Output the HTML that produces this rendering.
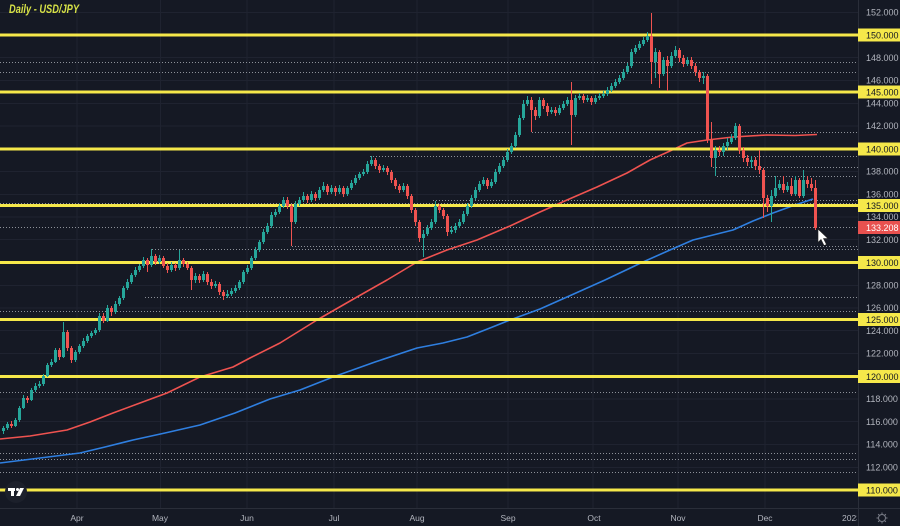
<!DOCTYPE html>
<html><head><meta charset="utf-8"><style>
html,body{margin:0;padding:0;background:#151924;}
svg{display:block;}
text{font-family:"Liberation Sans",sans-serif;}
</style></head><body>
<svg width="900" height="526" viewBox="0 0 900 526" xmlns="http://www.w3.org/2000/svg">
<defs><clipPath id="pl"><rect x="0" y="0" width="858" height="508"/></clipPath>
<clipPath id="ax"><rect x="0" y="508" width="857" height="18"/></clipPath></defs>
<rect width="900" height="526" fill="#151924"/>
<g stroke="#1f2330" stroke-width="1" shape-rendering="crispEdges">
<line x1="0" x2="858" y1="12.5" y2="12.5"/><line x1="0" x2="858" y1="57.5" y2="57.5"/><line x1="0" x2="858" y1="80.5" y2="80.5"/><line x1="0" x2="858" y1="103.5" y2="103.5"/><line x1="0" x2="858" y1="126" y2="126"/><line x1="0" x2="858" y1="171.5" y2="171.5"/><line x1="0" x2="858" y1="194.5" y2="194.5"/><line x1="0" x2="858" y1="217" y2="217"/><line x1="0" x2="858" y1="239.5" y2="239.5"/><line x1="0" x2="858" y1="285.5" y2="285.5"/><line x1="0" x2="858" y1="308" y2="308"/><line x1="0" x2="858" y1="330.5" y2="330.5"/><line x1="0" x2="858" y1="353.5" y2="353.5"/><line x1="0" x2="858" y1="399" y2="399"/><line x1="0" x2="858" y1="421.5" y2="421.5"/><line x1="0" x2="858" y1="444.5" y2="444.5"/><line x1="0" x2="858" y1="467.5" y2="467.5"/>
<line x1="77" x2="77" y1="0" y2="508"/><line x1="160.5" x2="160.5" y1="0" y2="508"/><line x1="247" x2="247" y1="0" y2="508"/><line x1="334" x2="334" y1="0" y2="508"/><line x1="417" x2="417" y1="0" y2="508"/><line x1="508" x2="508" y1="0" y2="508"/><line x1="593" x2="593" y1="0" y2="508"/><line x1="678" x2="678" y1="0" y2="508"/><line x1="765" x2="765" y1="0" y2="508"/>
</g>
<g stroke="#a3a6ae" stroke-width="1" stroke-dasharray="1 2" opacity="0.85">
<line x1="0" x2="858" y1="62.5" y2="62.5"/><line x1="0" x2="858" y1="72.5" y2="72.5"/><line x1="532" x2="858" y1="132.5" y2="132.5"/><line x1="370" x2="858" y1="156.5" y2="156.5"/><line x1="713" x2="858" y1="167.5" y2="167.5"/><line x1="717" x2="858" y1="176.5" y2="176.5"/><line x1="433" x2="858" y1="200.5" y2="200.5"/><line x1="0" x2="858" y1="203.5" y2="203.5"/><line x1="0" x2="858" y1="227.5" y2="227.5"/><line x1="292" x2="858" y1="246.5" y2="246.5"/><line x1="152" x2="858" y1="249.5" y2="249.5"/><line x1="145" x2="858" y1="297.5" y2="297.5"/><line x1="0" x2="858" y1="311.5" y2="311.5"/><line x1="0" x2="858" y1="392.5" y2="392.5"/><line x1="0" x2="858" y1="453.5" y2="453.5"/><line x1="0" x2="858" y1="459.5" y2="459.5"/><line x1="0" x2="858" y1="472.5" y2="472.5"/>
</g>
<g clip-path="url(#pl)" fill="none" stroke-width="1.6" stroke-linejoin="round">
<polyline stroke="#ef5350" points="0,439 30,436 67,430 90,422 113,413 140,403 167,393 200,377 233,367 250,358 280,343 317,320 357,297 387,280 417,262 447,250 477,240 510,226 540,212 567,200 597,187 627,173 650,160 670,151 687,143 707,140 733,137 767,135 795,135.5 817,134.5"/>
<polyline stroke="#2f7fe0" points="0,463 40,458 80,453 105,447 133,440 165,433 200,425 235,413 270,399 300,390 333,377 375,362 417,348 443,343 467,337 490,328 510,320 540,309 567,297 605,280 643,262 670,250 693,240 713,235 733,230 753,221 773,213 795,205 813,199"/>
</g>
<g stroke="#f5e84a" stroke-width="3" shape-rendering="crispEdges">
<line x1="0" x2="858" y1="35" y2="35"/><line x1="0" x2="858" y1="92" y2="92"/><line x1="0" x2="858" y1="149" y2="149"/><line x1="0" x2="858" y1="205.5" y2="205.5"/><line x1="0" x2="858" y1="262.5" y2="262.5"/><line x1="0" x2="858" y1="319.5" y2="319.5"/><line x1="0" x2="858" y1="376.5" y2="376.5"/><line x1="0" x2="858" y1="490" y2="490"/>
</g>
<g fill="none">
<path stroke="#26a69a" stroke-width="1" d="M3.5 426V434M7.5 422V430M15.5 418V427M19.5 406V422M23.5 395V409M31.5 388V401M35.5 383V392M39.5 381V388M43.5 374V386M47.5 363V377M51.5 359V367M55.5 348V363M63.5 322V358M75.5 350V362M79.5 344V354M83.5 338V348M87.5 334V343M91.5 331V338M95.5 328V335M99.5 313V332M107.5 305V322M115.5 301V314M119.5 296V306M123.5 286V300M127.5 279V290M131.5 273V284M135.5 267V277M139.5 264V272M143.5 257V268M151.5 249V267M159.5 255V264M171.5 262V272M179.5 250V270M195.5 273V283M203.5 271V282M215.5 281V288M227.5 290V298M231.5 288V296M235.5 285V293M239.5 280V290M243.5 270V284M247.5 265V274M251.5 256V270M255.5 247V260M259.5 240V252M263.5 229V244M267.5 223V234M271.5 212V228M275.5 209V217M279.5 203V214M283.5 197V208M295.5 201V224M299.5 197V206M303.5 192V202M311.5 191V202M319.5 187V200M323.5 182V192M331.5 185V194M339.5 185V194M347.5 186V196M351.5 180V190M355.5 175V185M359.5 172V180M363.5 169V176M367.5 161V174M371.5 156V166M383.5 165V172M403.5 183V192M423.5 230V257M427.5 225V236M431.5 219V230M435.5 201V224M451.5 226V234M455.5 223V233M459.5 219V228M463.5 211V224M467.5 203V216M471.5 195V208M475.5 187V200M479.5 181V192M483.5 177V186M491.5 179V188M495.5 169V184M499.5 163V174M503.5 157V168M507.5 149V162M511.5 143V154M515.5 132V148M519.5 115V137M523.5 100V120M527.5 96V106M539.5 97V118M551.5 107V114M559.5 105V115M563.5 101V110M567.5 97V106M575.5 95V117M579.5 93V100M587.5 95V102M595.5 95V104M599.5 93V100M603.5 91V98M607.5 87V96M611.5 83V92M615.5 79V88M619.5 75V84M623.5 69V80M627.5 63V74M631.5 49V68M635.5 45V54M639.5 41V50M643.5 37V46M647.5 32V42M655.5 48V78M663.5 57V76M671.5 52V68M675.5 46V58M687.5 57V66M703.5 72V84M715.5 146V176M723.5 143V156M727.5 138V150M731.5 134V144M735.5 123V140M751.5 156V168M771.5 190V222M775.5 176V198M779.5 180V190M787.5 182V192M795.5 176V196M803.5 170V198"/>
<path stroke="#26a69a" stroke-width="3" d="M3.5 428V431M7.5 424V428M15.5 420V426M19.5 408V420M23.5 398V408M31.5 390V400M35.5 386V390M39.5 384V386M43.5 376V384M47.5 365V376M51.5 362V365M55.5 350V362M63.5 332V357M75.5 352V360M79.5 346V352M83.5 341V346M87.5 336V341M91.5 333V336M95.5 330V333M99.5 316V330M107.5 308V321M115.5 304V312M119.5 298V304M123.5 288V298M127.5 282V288M131.5 275V282M135.5 270V275M139.5 266V270M143.5 260V266M151.5 256V265M159.5 258V262M171.5 265V270M179.5 260V268M195.5 276V280M203.5 274V280M215.5 284V286M227.5 294V296M231.5 291V294M235.5 288V291M239.5 282V288M243.5 272V282M247.5 268V272M251.5 258V268M255.5 250V258M259.5 242V250M263.5 232V242M267.5 226V232M271.5 215V226M275.5 212V215M279.5 206V212M283.5 200V206M295.5 204V222M299.5 200V204M303.5 196V200M311.5 194V200M319.5 190V198M323.5 186V190M331.5 188V192M339.5 188V192M347.5 188V194M351.5 183V188M355.5 178V183M359.5 174V178M363.5 172V174M367.5 164V172M371.5 160V164M383.5 168V170M403.5 186V190M423.5 234V238M427.5 228V234M431.5 222V228M435.5 206V222M451.5 230V232M455.5 226V230M459.5 222V226M463.5 214V222M467.5 206V214M471.5 198V206M475.5 190V198M479.5 184V190M483.5 180V184M491.5 182V186M495.5 172V182M499.5 166V172M503.5 160V166M507.5 152V160M511.5 146V152M515.5 135V146M519.5 118V135M523.5 104V118M527.5 100V104M539.5 100V116M551.5 110V112M559.5 108V113M563.5 104V108M567.5 100V104M575.5 98V115M579.5 96V98M587.5 98V100M595.5 98V102M599.5 96V98M603.5 94V96M607.5 90V94M611.5 86V90M615.5 82V86M619.5 78V82M623.5 72V78M627.5 66V72M631.5 52V66M635.5 48V52M639.5 44V48M643.5 40V44M647.5 36V40M655.5 52V62M663.5 60V74M671.5 56V66M675.5 50V56M687.5 60V64M703.5 76V78M715.5 150V158M723.5 146V152M727.5 142V146M731.5 138V142M735.5 126V138M751.5 160V162M771.5 196V206M775.5 188V196M779.5 184V188M787.5 186V190M795.5 180V194M803.5 180V196"/>
<path stroke="#ef5350" stroke-width="1" d="M11.5 421V428M27.5 396V403M59.5 348V360M67.5 330V351M71.5 346V363M103.5 313V323M111.5 306V316M147.5 258V272M155.5 254V265M163.5 256V268M167.5 263V273M175.5 263V271M183.5 258V267M187.5 262V270M191.5 266V290M199.5 274V283M207.5 272V285M211.5 279V289M219.5 282V295M223.5 290V300M287.5 197V209M291.5 204V246M307.5 194V203M315.5 192V201M327.5 184V195M335.5 186V196M343.5 186V197M375.5 158V169M379.5 164V173M387.5 166V175M391.5 170V183M395.5 178V189M399.5 184V193M407.5 184V199M411.5 194V213M415.5 208V226M419.5 220V242M439.5 204V213M443.5 208V219M447.5 214V236M487.5 178V189M531.5 97V132M535.5 107V120M543.5 98V109M547.5 103V116M555.5 107V116M571.5 82V145M583.5 94V103M591.5 96V105M651.5 13V84M659.5 50V88M667.5 56V91M679.5 48V62M683.5 55V67M691.5 57V69M695.5 63V76M699.5 70V82M707.5 74V143M711.5 122V167M719.5 146V156M739.5 124V154M743.5 147V162M747.5 155V166M755.5 157V170M759.5 150V174M763.5 168V218M767.5 195V212M783.5 176V193M791.5 178V196M799.5 178V198M807.5 176V188M811.5 178V191M815.5 180V230"/>
<path stroke="#ef5350" stroke-width="3" d="M11.5 424V426M27.5 398V400M59.5 350V357M67.5 332V348M71.5 348V360M103.5 316V321M111.5 308V312M147.5 260V265M155.5 256V262M163.5 258V266M167.5 266V270M175.5 265V268M183.5 260V264M187.5 264V268M191.5 268V280M199.5 276V280M207.5 274V282M211.5 282V286M219.5 284V292M223.5 292V296M287.5 200V206M291.5 206V222M307.5 196V200M315.5 194V198M327.5 186V192M335.5 188V192M343.5 188V194M375.5 160V166M379.5 166V170M387.5 168V172M391.5 172V180M395.5 180V186M399.5 186V190M407.5 186V196M411.5 196V210M415.5 210V222M419.5 222V238M439.5 206V210M443.5 210V216M447.5 216V232M487.5 180V186M531.5 100V110M535.5 110V116M543.5 100V106M547.5 106V112M555.5 110V113M571.5 100V115M583.5 96V100M591.5 98V102M651.5 36V62M659.5 52V74M667.5 60V66M679.5 50V58M683.5 58V64M691.5 60V66M695.5 66V72M699.5 72V78M707.5 76V140M711.5 140V158M719.5 150V152M739.5 126V150M743.5 150V158M747.5 158V162M755.5 160V166M759.5 166V170M763.5 170V198M767.5 198V206M783.5 184V190M791.5 186V194M799.5 180V196M807.5 180V184M811.5 184V188M815.5 188V228"/>
</g>
<polygon points="818,229 818,242.5 821,239.5 824,245.5 826.5,244.5 823.5,238.5 828,238.5" fill="#ffffff" stroke="#222" stroke-width="0.6"/>
<line x1="858.5" x2="858.5" y1="0" y2="526" stroke="#2a2e39"/>
<line x1="0" x2="900" y1="508.5" y2="508.5" stroke="#2a2e39"/>
<text x="9" y="13" font-size="11.5" font-style="italic" font-weight="bold" fill="#d7e247" textLength="70" lengthAdjust="spacingAndGlyphs">Daily - USD/JPY</text>
<g font-size="9" fill="#b2b5be">
<text x="866" y="15.5">152.000</text>
<text x="866" y="61">148.000</text>
<text x="866" y="83.5">146.000</text>
<text x="866" y="106.5">144.000</text>
<text x="866" y="129">142.000</text>
<text x="866" y="174.5">138.000</text>
<text x="866" y="197.5">136.000</text>
<text x="866" y="220">134.000</text>
<text x="866" y="243">132.000</text>
<text x="866" y="288.5">128.000</text>
<text x="866" y="311">126.000</text>
<text x="866" y="334">124.000</text>
<text x="866" y="356.5">122.000</text>
<text x="866" y="402">118.000</text>
<text x="866" y="425">116.000</text>
<text x="866" y="447.5">114.000</text>
<text x="866" y="470.5">112.000</text>
</g>
<g fill="#f5e84a">
<rect x="858" y="28.5" width="42" height="13"/><rect x="858" y="85.5" width="42" height="13"/><rect x="858" y="142.5" width="42" height="13"/><rect x="858" y="199" width="42" height="13"/><rect x="858" y="256" width="42" height="13"/><rect x="858" y="313" width="42" height="13"/><rect x="858" y="370" width="42" height="13"/><rect x="858" y="483.5" width="42" height="13"/>
</g>
<rect x="858" y="221" width="42" height="13" fill="#e8514f"/>
<g font-size="9" fill="#131722">
<text x="866" y="38.5">150.000</text>
<text x="866" y="95.5">145.000</text>
<text x="866" y="152.5">140.000</text>
<text x="866" y="209">135.000</text>
<text x="866" y="266">130.000</text>
<text x="866" y="323">125.000</text>
<text x="866" y="380">120.000</text>
<text x="866" y="493.5">110.000</text>
</g>
<text x="866" y="231" font-size="9" fill="#ffffff">133.208</text>
<g font-size="8.5" fill="#b2b5be" text-anchor="middle">
<text x="77" y="521">Apr</text><text x="160" y="521">May</text><text x="247" y="521">Jun</text><text x="334" y="521">Jul</text><text x="417" y="521">Aug</text><text x="508" y="521">Sep</text><text x="594" y="521">Oct</text><text x="678" y="521">Nov</text><text x="765" y="521">Dec</text>
</g>
<g clip-path="url(#ax)"><text x="842" y="521" font-size="8.5" fill="#b2b5be">2023</text></g>
<g fill="none" stroke="#787b86" stroke-width="1">
<circle cx="882" cy="518" r="3.5"/>
<path d="M882 512.5v2M882 521.5v2M876.5 518h2M885.5 518h2M878.1 514.1l1.4 1.4M884.5 520.5l1.4 1.4M878.1 521.9l1.4-1.4M884.5 515.5l1.4-1.4"/>
</g>
<circle cx="16" cy="492" r="11" fill="#1c202b"/>
<g fill="#ffffff"><rect x="8" y="488" width="7" height="3"/><rect x="11" y="488" width="3" height="8"/><circle cx="17.5" cy="489.5" r="1.5"/><polygon points="20,488 24,488 20,496 16,496"/></g>
</svg>
</body></html>
